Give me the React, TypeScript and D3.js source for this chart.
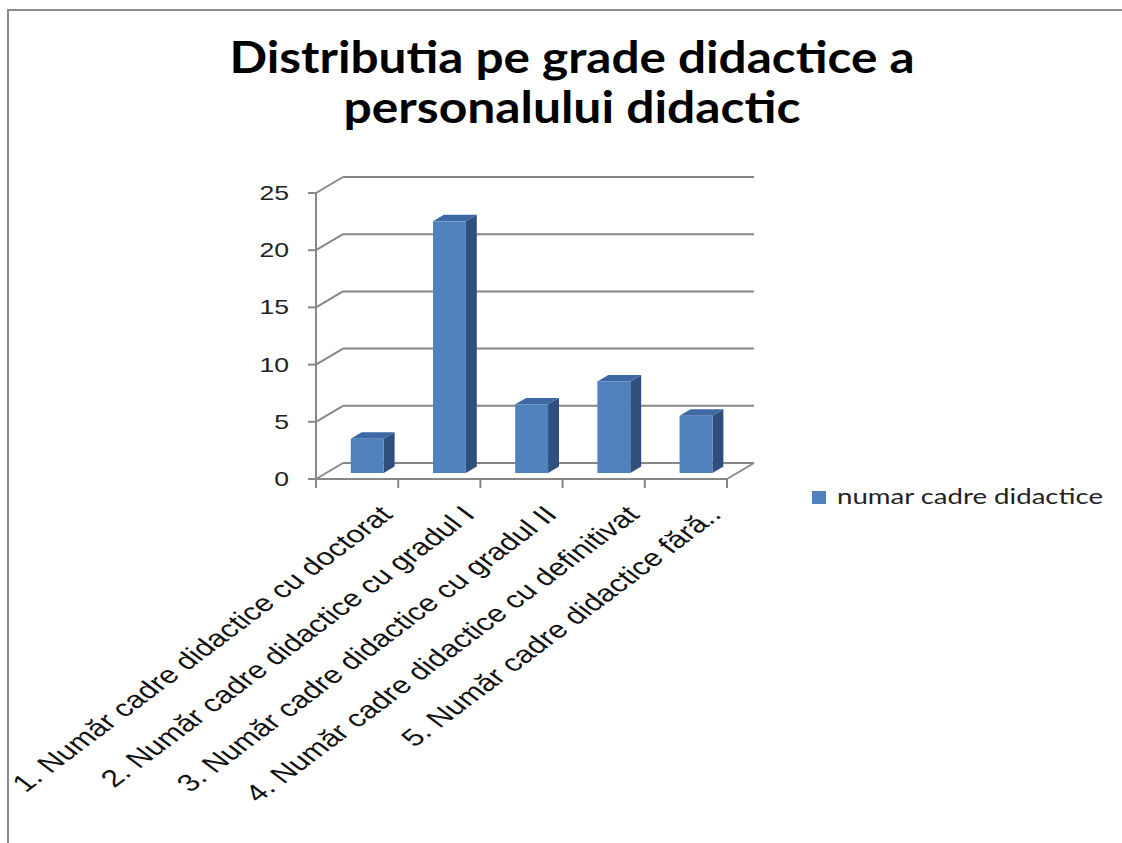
import React from "react";
import * as d3 from "d3";

const categories = [
  "1. Număr cadre didactice cu doctorat",
  "2. Număr cadre didactice cu gradul I",
  "3. Număr cadre didactice cu gradul II",
  "4. Număr cadre didactice cu definitivat",
  "5. Număr cadre didactice fără..",
];
const values = [3, 22, 6, 8, 5];
const yTicks = [0, 5, 10, 15, 20, 25];
const seriesName = "numar cadre didactice";
const titleLines = ["Distributia pe grade didactice a", "personalului didactic"];

const W = 1122;
const H = 843;
const X0 = 316;
const X1 = 727;
const Y0 = 479;
const Y25 = 193;
const DX = 27;
const DY = -16;
const SX = 1.33;
const GRID = "#878787";

export default function App() {
  const x = d3.scaleBand<string>().domain(categories).range([X0, X1]).paddingInner(0).paddingOuter(0);
  const y = d3.scaleLinear().domain([0, 25]).range([Y0, Y25]);
  const bw = x.bandwidth();
  const d0 = 0.375;
  const d1 = 0.78;

  const bars = categories.map((c, i) => {
    const v = values[i];
    const xl = (x(c) as number) + bw * 0.3 + d0 * DX;
    const xr = xl + bw * 0.4;
    const yb = y(0) + d0 * DY;
    const yt = y(v) + d0 * DY;
    const ox = (d1 - d0) * DX;
    const oy = (d1 - d0) * DY;
    return { c, xl, xr, yb, yt, ox, oy };
  });

  const tickXs = [...categories.map((c) => x(c) as number), X1];

  return (
    <svg width={W} height={H} style={{ position: "absolute", left: 0, top: 0, background: "#fff" }}>
      <path d={`M8,${H} V10 H${W}`} fill="none" stroke="#8c8c8c" strokeWidth={2} />

      {titleLines.map((t, i) => (
        <text
          key={t}
          x={572}
          y={i === 0 ? 73 : 123}
          textAnchor="middle"
          fontFamily="Lato, 'Open Sans', sans-serif"
          fontWeight="bold"
          fontSize={43}
          textLength={i === 0 ? 685 : 457}
          lengthAdjust="spacingAndGlyphs"
          fill="#000"
        >
          {t}
        </text>
      ))}

      {/* back wall gridlines and left wall connectors */}
      {yTicks.map((t) => (
        <g key={"g" + t}>
          <line x1={X0} y1={y(t)} x2={X0 + DX} y2={y(t) + DY} stroke={GRID} strokeWidth={2} />
          <line x1={X0 + DX} y1={y(t) + DY} x2={X1 + DX} y2={y(t) + DY} stroke={GRID} strokeWidth={2} />
        </g>
      ))}
      {/* floor */}
      <line x1={X0} y1={Y0} x2={X1} y2={Y0} stroke={GRID} strokeWidth={2} />
      <line x1={X1} y1={Y0} x2={X1 + DX} y2={Y0 + DY} stroke={GRID} strokeWidth={2} />
      {/* vertical axis */}
      <line x1={X0} y1={Y25} x2={X0} y2={Y0 + 9} stroke={GRID} strokeWidth={2} />
      {yTicks.map((t) => (
        <line key={"t" + t} x1={X0 - 8} y1={y(t)} x2={X0} y2={y(t)} stroke={GRID} strokeWidth={2} />
      ))}
      {tickXs.map((tx, i) => (
        <line key={"xt" + i} x1={tx} y1={Y0} x2={tx} y2={Y0 + 9} stroke={GRID} strokeWidth={2} />
      ))}

      {yTicks.map((t) => (
        <text
          key={"yl" + t}
          transform={`translate(289,${y(t) + 7}) scale(${SX},1)`}
          textAnchor="end"
          fontFamily="'Liberation Sans', Arial, sans-serif"
          fontSize={20}
          fill="#222"
        >
          {t}
        </text>
      ))}

      {bars.map((b) => (
        <g key={b.c}>
          <path
            d={`M${b.xr},${b.yt} L${b.xr + b.ox},${b.yt + b.oy} L${b.xr + b.ox},${b.yb + b.oy} L${b.xr},${b.yb} Z`}
            fill="#2F507C"
          />
          <path
            d={`M${b.xl},${b.yt} L${b.xl + b.ox},${b.yt + b.oy} L${b.xr + b.ox},${b.yt + b.oy} L${b.xr},${b.yt} Z`}
            fill="#3D68A3"
          />
          <rect x={b.xl} y={b.yt} width={b.xr - b.xl} height={b.yb - b.yt} fill="#4F81BD" />
        </g>
      ))}

      {categories.map((c) => (
        <text
          key={"cl" + c}
          transform={`translate(${(x(c) as number) + bw / 2 + 37},516) scale(${SX},1) rotate(-45)`}
          textAnchor="end"
          fontFamily="'Liberation Sans', Arial, sans-serif"
          fontSize={24}
          fill="#111"
        >
          {c}
        </text>
      ))}

      <rect x={812} y={491} width={14} height={13} fill="#4F81BD" />
      <text
        x={837}
        y={504}
        fontFamily="Lato, 'Open Sans', sans-serif"
        fontSize={21}
        textLength={266}
        lengthAdjust="spacingAndGlyphs"
        fill="#222"
      >
        {seriesName}
      </text>
    </svg>
  );
}
